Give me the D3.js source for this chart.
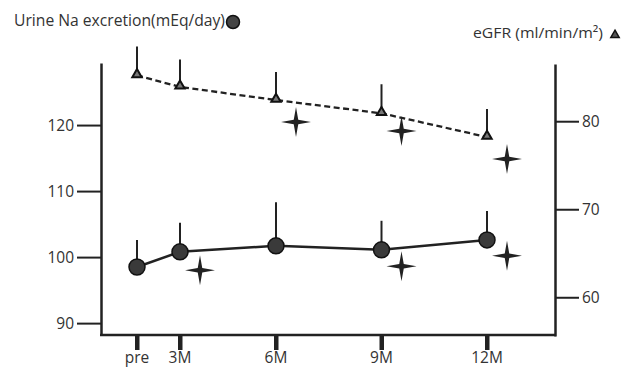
<!DOCTYPE html>
<html><head><meta charset="utf-8">
<script src="https://cdn.jsdelivr.net/npm/d3@7"></script>
<style>body{margin:0;background:#fff}</style>
</head><body><div id="chart"></div>
<script>
var months = ["pre", "3M", "6M", "9M", "12M"];
var monthNum = [0, 3, 6, 9, 12];
var naMean = [98.5, 100.8, 101.7, 101.1, 102.6];
var naUpper = [102.6, 105.2, 108.3, 105.5, 107.0];
var gfrMean = [85.2, 83.9, 82.4, 80.9, 78.2];
var gfrUpper = [88.5, 87.0, 85.6, 84.2, 81.4];
var naStars = [null, 98.0, null, 98.6, 100.2];
var gfrStars = [null, null, 79.9, 78.9, 75.7];
var leftTicks = [90, 100, 110, 120];
var rightTicks = [60, 70, 80];

var width = 632, height = 367;
var ink = "#222";
var font = "'Open Sans', sans-serif";

var svg = d3.select("#chart").append("svg")
    .attr("width", width).attr("height", height);

// x positions are not evenly spaced in the original
var x = d3.scaleLinear().domain([0, 3, 6, 12]).range([137, 180, 276, 487]);
var yL = d3.scaleLinear().domain([88.2, 129.4]).range([335, 63]);
var yR = d3.scaleLinear().domain([55.6, 86.5]).range([336, 64]);

// left axis
var gl = svg.append("g").attr("transform", "translate(101,0)")
    .call(d3.axisLeft(yL).tickValues(leftTicks).tickSize(24).tickSizeOuter(0).tickPadding(3));
gl.select(".domain").attr("stroke", ink).attr("stroke-width", 2.5);
gl.selectAll(".tick line").attr("stroke", ink).attr("stroke-width", 2);
gl.selectAll(".tick text").attr("font-family", font).attr("font-size", 15.5).attr("fill", "#333");

// right axis
var gr = svg.append("g").attr("transform", "translate(555,0)")
    .call(d3.axisRight(yR).tickValues(rightTicks).tickSize(24).tickSizeOuter(0).tickPadding(3));
gr.select(".domain").attr("stroke", ink).attr("stroke-width", 2.5);
gr.selectAll(".tick line").attr("stroke", ink).attr("stroke-width", 2);
gr.selectAll(".tick text").attr("font-family", font).attr("font-size", 15.5).attr("fill", "#333");

// bottom line + thick ticks
svg.append("line").attr("x1", 100).attr("x2", 556).attr("y1", 335).attr("y2", 335)
    .attr("stroke", ink).attr("stroke-width", 2.5);
svg.selectAll(".xt").data(monthNum).enter().append("rect")
    .attr("x", function(d) { return x(d) - 2; })
    .attr("y", 335).attr("width", 4.5).attr("height", 15).attr("fill", ink);
svg.selectAll(".xl").data(months).enter().append("text")
    .attr("x", function(d, i) { return x(monthNum[i]); })
    .attr("y", 363).attr("text-anchor", "middle")
    .attr("font-family", font).attr("font-size", 15.5).attr("fill", "#333")
    .text(function(d) { return d; });

// error bars (upper only)
svg.selectAll(".naErr").data(naMean).enter().append("line")
    .attr("x1", function(d, i) { return x(monthNum[i]); })
    .attr("x2", function(d, i) { return x(monthNum[i]); })
    .attr("y1", function(d) { return yL(d); })
    .attr("y2", function(d, i) { return yL(naUpper[i]); })
    .attr("stroke", ink).attr("stroke-width", 2);
svg.selectAll(".gfrErr").data(gfrMean).enter().append("line")
    .attr("x1", function(d, i) { return x(monthNum[i]); })
    .attr("x2", function(d, i) { return x(monthNum[i]); })
    .attr("y1", function(d) { return yR(d); })
    .attr("y2", function(d, i) { return yR(gfrUpper[i]); })
    .attr("stroke", ink).attr("stroke-width", 2);

// lines
var naLine = d3.line().x(function(d, i) { return x(monthNum[i]); }).y(function(d) { return yL(d); });
var gfrLine = d3.line().x(function(d, i) { return x(monthNum[i]); }).y(function(d) { return yR(d); });
svg.append("path").attr("d", naLine(naMean)).attr("fill", "none")
    .attr("stroke", ink).attr("stroke-width", 2.5);
svg.append("path").attr("d", gfrLine(gfrMean)).attr("fill", "none")
    .attr("stroke", ink).attr("stroke-width", 2.3).attr("stroke-dasharray", "6,3.5");

// markers
var tri = d3.symbol().type(d3.symbolTriangle).size(38);
svg.selectAll(".naPt").data(naMean).enter().append("circle")
    .attr("cx", function(d, i) { return x(monthNum[i]); })
    .attr("cy", function(d) { return yL(d); })
    .attr("r", 8).attr("fill", "#3a3a3a").attr("stroke", "#111").attr("stroke-width", 1.5);
svg.selectAll(".gfrPt").data(gfrMean).enter().append("path")
    .attr("d", tri)
    .attr("transform", function(d, i) { return "translate(" + x(monthNum[i]) + "," + (yR(d) - 1) + ")"; })
    .attr("fill", "#777").attr("stroke", "#111").attr("stroke-width", 2);

// significance stars (4 points)
var starPts = [];
for (var k = 0; k < 8; k++) starPts.push([k * Math.PI / 4, k % 2 ? 3.2 : 15]);
var starPath = d3.lineRadial().curve(d3.curveLinearClosed)(starPts);
function drawStars(vals, scale, cls) {
    svg.selectAll("." + cls).data(vals.filter(function(v) { return v != null; })).enter()
        .append("path").attr("d", starPath).attr("fill", ink)
        .attr("transform", function(d) {
            var i = vals.indexOf(d);
            return "translate(" + (x(monthNum[i]) + 20) + "," + scale(d) + ")";
        });
}
drawStars(naStars, yL, "naStar");
drawStars(gfrStars, yR, "gfrStar");

// titles
svg.append("text").attr("x", 14).attr("y", 26)
    .attr("font-family", font).attr("font-size", 16).attr("fill", "#333")
    .attr("textLength", 211).attr("lengthAdjust", "spacingAndGlyphs")
    .text("Urine Na excretion(mEq/day)");
svg.append("circle").attr("cx", 233).attr("cy", 22).attr("r", 6.5)
    .attr("fill", "#444").attr("stroke", "#111").attr("stroke-width", 1.5);
svg.append("text").attr("x", 473).attr("y", 38)
    .attr("font-family", font).attr("font-size", 15).attr("fill", "#333")
    .attr("textLength", 130).attr("lengthAdjust", "spacingAndGlyphs")
    .text("eGFR (ml/min/m²)");
svg.append("path").attr("d", d3.symbol().type(d3.symbolTriangle).size(30))
    .attr("transform", "translate(615,35)").attr("fill", "#555").attr("stroke", "#111").attr("stroke-width", 1.5);
</script>
</body></html>
